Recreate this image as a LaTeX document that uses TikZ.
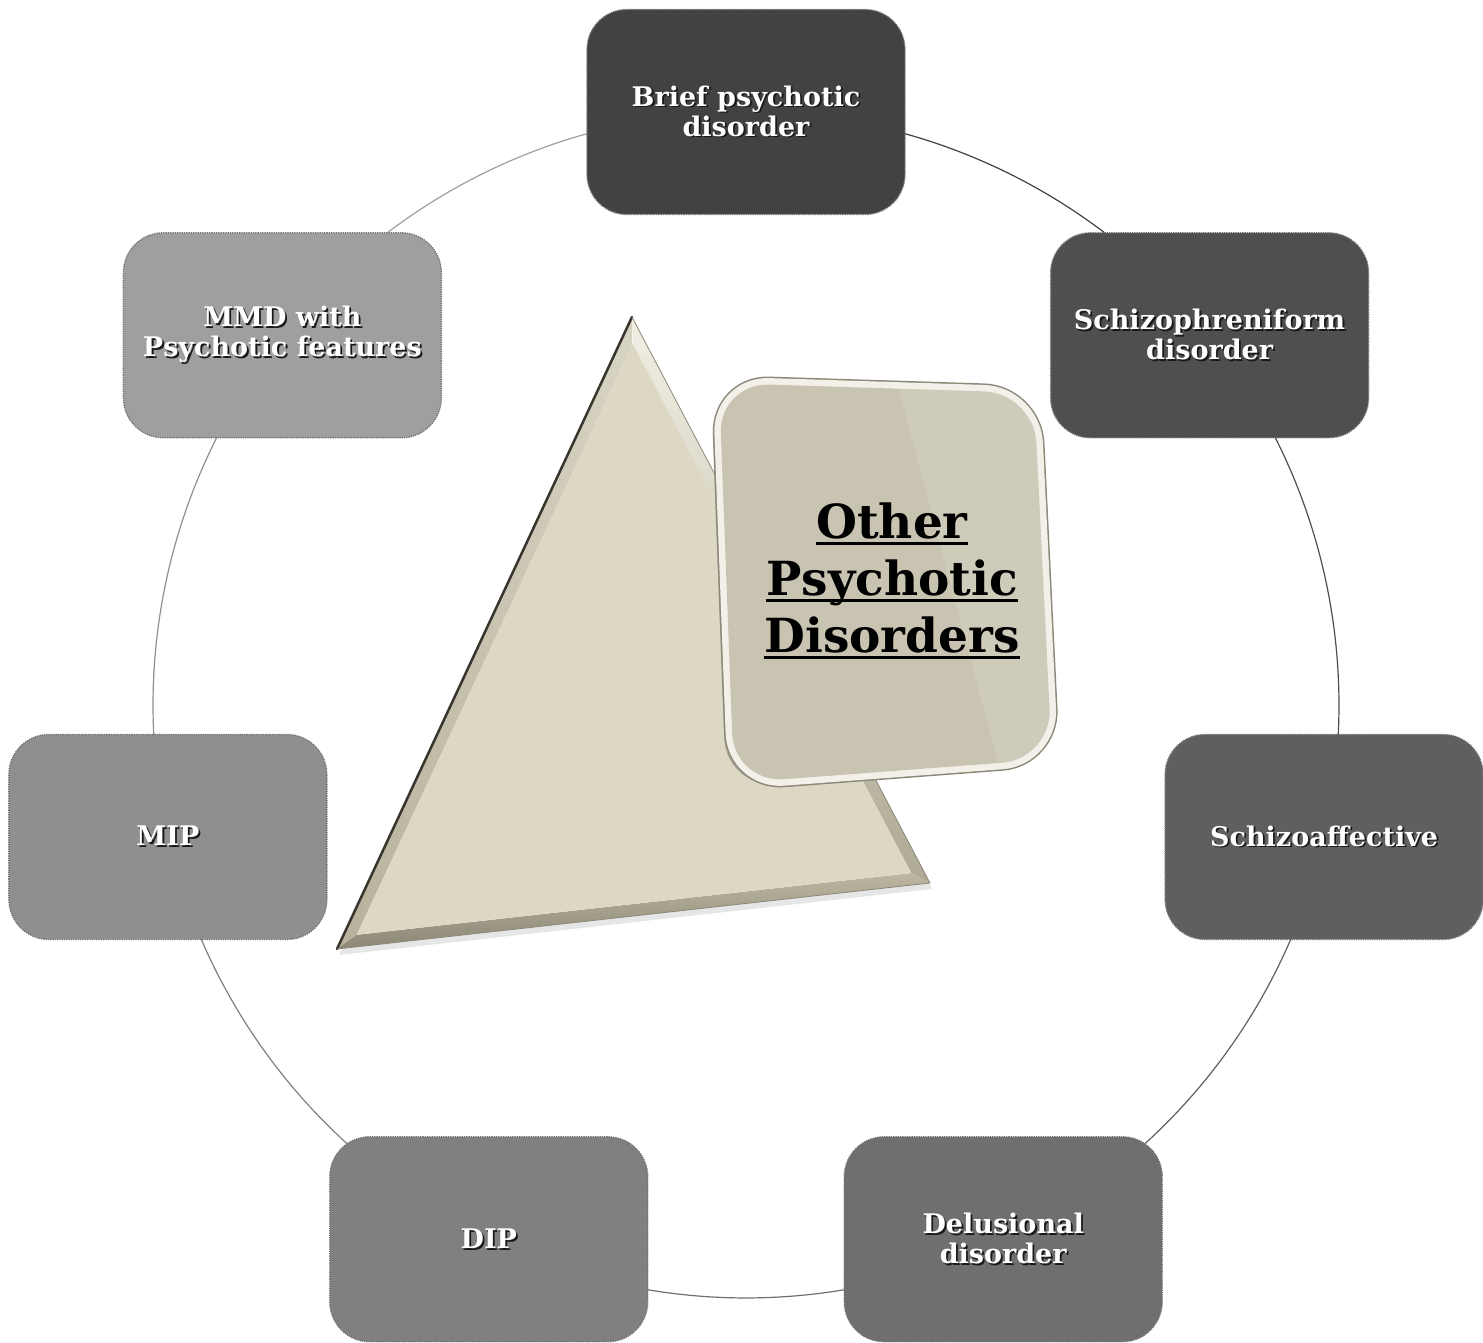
\documentclass[tikz,border=0pt]{standalone}
\usepackage{fontspec}
\setmainfont{DejaVu Serif}
\usetikzlibrary{calc,backgrounds,shadows}

\definecolor{boxa}{HTML}{424242}
\definecolor{boxb}{HTML}{4F4F4F}
\definecolor{boxc}{HTML}{5F5F5F}
\definecolor{boxd}{HTML}{6F6F6F}
\definecolor{boxe}{HTML}{808080}
\definecolor{boxf}{HTML}{8F8F8F}
\definecolor{boxg}{HTML}{9F9F9F}
\definecolor{triface}{HTML}{DDD8C3}
\definecolor{trileft}{HTML}{C7C1A9}
\definecolor{triright}{HTML}{F1EFE4}
\definecolor{tririm}{HTML}{37352D}
\definecolor{cardface}{HTML}{C9C4B1}
\definecolor{cardrim}{HTML}{8C8879}
\definecolor{cardglow}{HTML}{F2F0E8}

\newcommand\shtxt[1]{\leavevmode\rlap{\kern1.8pt\raisebox{-1.8pt}{\color{black!90}#1}}#1}
\newcommand\ulline[1]{\setbox0\hbox{#1}\leavevmode\rlap{\rule[-7pt]{\wd0}{3pt}}\box0}

\tikzset{
	disbox/.style={rectangle, rounded corners=40pt, minimum width=318pt, minimum height=205pt,
		densely dotted, line width=1.3pt, draw=black!55, text=white, align=center, inner sep=0pt,
		font=\fontsize{27}{30}\selectfont\bfseries},
	ring/.style={line width=1.2pt},
}

\begin{document}
\begin{tikzpicture}[x=1pt,y=1pt]
		\useasboundingbox (-746,-638) rectangle (737,705);
		% ring of disorders
		\node[disbox, fill=boxa] (brief) at (90:593) {\shtxt{Brief psychotic}\\\shtxt{disorder}};
		\node[disbox, fill=boxb] (schform) at (38.57:593) {\shtxt{Schizophreniform}\\\shtxt{disorder}};
		\node[disbox, fill=boxc] (schaff) at (-12.86:593) {\shtxt{Schizoaffective}};
		\node[disbox, fill=boxd] (delus) at (-64.29:593) {\shtxt{Delusional}\\\shtxt{disorder}};
		\node[disbox, fill=boxe] (dip) at (-115.71:593) {\shtxt{DIP}};
		\node[disbox, fill=boxf] (mip) at (-167.14:593) {\shtxt{MIP}};
		\node[disbox, fill=boxg] (mmd) at (141.43:593) {\shtxt{MMD with}\\\shtxt{Psychotic features}};
		\begin{pgfonlayer}{background}
			\draw[ring, boxa] (brief.center) arc[start angle=90, delta angle=-51.43, radius=593];
			\draw[ring, boxb] (schform.center) arc[start angle=38.57, delta angle=-51.43, radius=593];
			\draw[ring, boxc] (schaff.center) arc[start angle=-12.86, delta angle=-51.43, radius=593];
			\draw[ring, boxd] (delus.center) arc[start angle=-64.29, delta angle=-51.43, radius=593];
			\draw[ring, boxe] (dip.center) arc[start angle=-115.71, delta angle=-51.43, radius=593];
			\draw[ring, boxf] (mip.center) arc[start angle=-167.14, delta angle=-51.43, radius=593];
			\draw[ring, boxg] (mmd.center) arc[start angle=141.43, delta angle=-51.43, radius=593];
		\end{pgfonlayer}
		% bevelled triangle
		\coordinate (apex) at (-114,388);
		\coordinate (foot) at (-409,-244);
		\coordinate (tip) at (184,-178);
		\coordinate (incen) at (-104.1,-25.2);
		\coordinate (apexin) at ($(incen)!0.935!(apex)$);
		\coordinate (footin) at ($(incen)!0.935!(foot)$);
		\coordinate (tipin) at ($(incen)!0.935!(tip)$);
		\fill[white, drop shadow={shadow xshift=2pt, shadow yshift=-6pt, opacity=0.2}] (apex) -- (foot) -- (tip) -- cycle;
		\shade[left color=black!8!trileft, right color=trileft!70!white] (apex) -- (foot) -- (footin) -- (apexin) -- cycle;
		\shade[top color=black!5!trileft, bottom color=black!30!trileft] (foot) -- (tip) -- (tipin) -- (footin) -- cycle;
		\shade[top color=triright, bottom color=black!12!trileft] (tip) -- (apex) -- (apexin) -- (tipin) -- cycle;
		\fill[triface] (apexin) -- (footin) -- (tipin) -- cycle;
		\draw[tririm, line width=2.5pt, line cap=round] (apex) -- (foot);
		\draw[cardrim, line width=0.8pt] (apex) -- (tip) -- (foot);
		% tilted card
		\coordinate (cardtl) at (-27,322);
		\coordinate (cardtr) at (288,312);
		\coordinate (cardbr) at (306,-54);
		\coordinate (cardbl) at (-12,-78);
		\path[save path=\cardshape, rounded corners=50pt] ($(cardtl)!0.5!(cardtr)$) -- (cardtr) -- (cardbr) -- (cardbl) -- (cardtl) -- cycle;
		\fill[black, opacity=0.22, use path=\cardshape, transform canvas={xshift=-8pt, yshift=-5pt}];
		\draw[cardrim, line width=16pt, use path=\cardshape];
		\draw[cardglow, line width=13pt, use path=\cardshape];
		\fill[cardface, use path=\cardshape];
		\begin{scope}
			\clip[use path=\cardshape];
			\fill[white, opacity=0.13] (149,330) -- (330,330) -- (330,-95) -- (262,-95) -- cycle;
		\end{scope}
		\node[align=center, font=\fontsize{47}{57}\selectfont\bfseries] (title) at (146,124)
			{\ulline{Other}\\\ulline{Psychotic}\\\ulline{Disorders}};
\end{tikzpicture}
\end{document}
